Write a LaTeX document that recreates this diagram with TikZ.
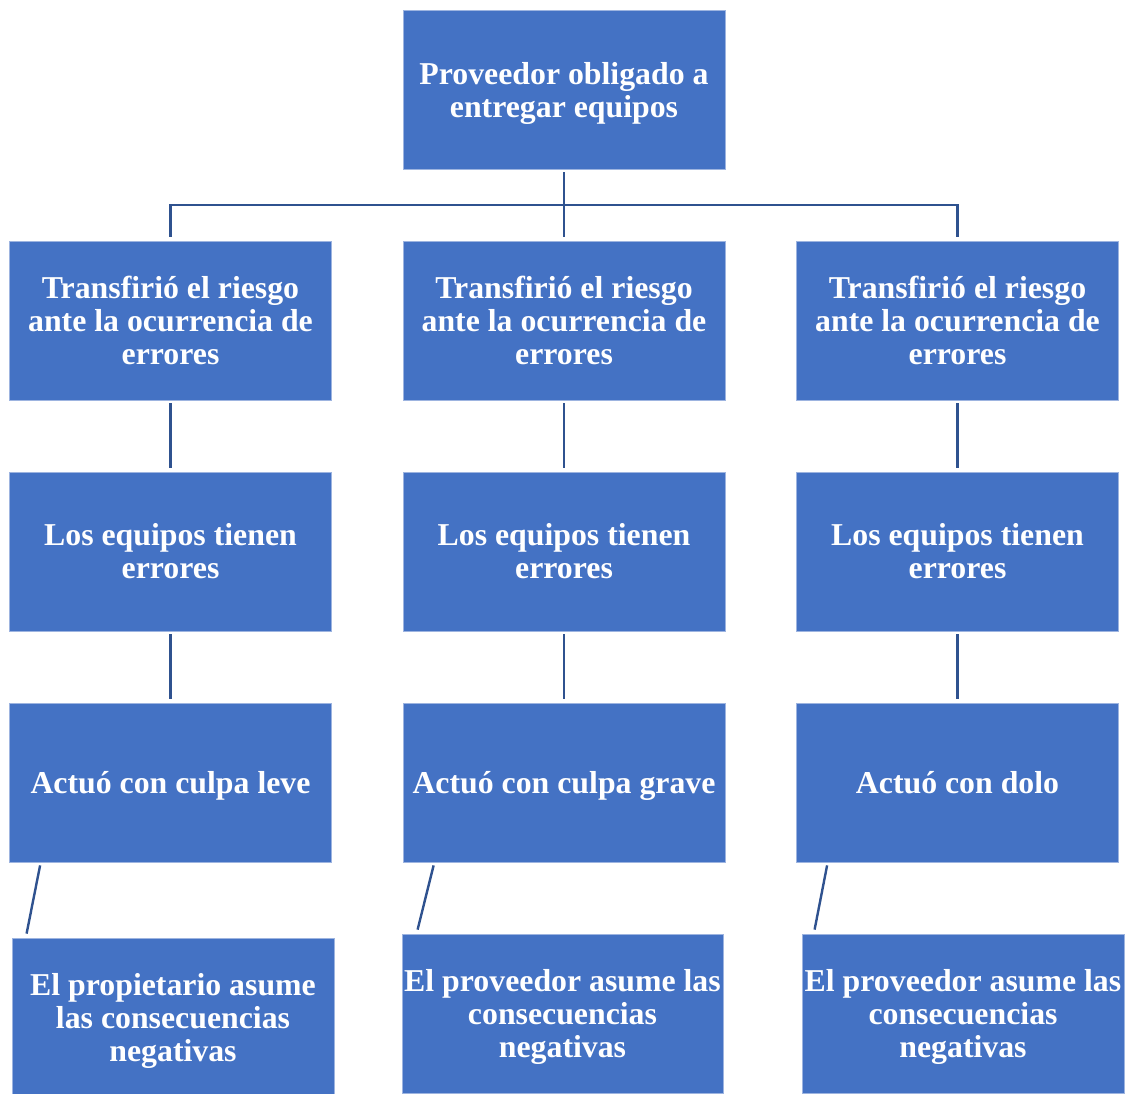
\documentclass[tikz,border=0pt]{standalone}
\usepackage{fontspec}
\setmainfont{Liberation Serif}
\usetikzlibrary{calc}
\definecolor{boxblue}{HTML}{4472C4}
\definecolor{boxedge}{HTML}{9DB4E0}
\definecolor{linkblue}{HTML}{2F528F}
% last line set without its descender depth, so text centres on its lines
\newcommand\flatline[1]{\raisebox{0pt}[\height][0pt]{#1}}
\begin{document}
\begin{tikzpicture}[x=1pt,y=-1pt,
  card/.style={rectangle, fill=boxblue, draw=boxedge, line width=0.8pt,
    minimum width=322pt, minimum height=159pt, inner sep=0pt,
    text=white, align=center,
    font=\fontsize{31.8}{33}\selectfont\bfseries},
  conn/.style={draw=linkblue, line width=2.4pt}]
\useasboundingbox (0,0) rectangle (1130,1093);
\clip (0,0) rectangle (1130,1093);

% root
\node[card] (top) at (564,89.5) {Proveedor obligado a\\\flatline{entregar equipos}};

% second row
\node[card] (l2) at (170.5,320.5) {Transfirió el riesgo\\ante la ocurrencia de\\errores};
\node[card] (m2) at (564,320.5) {Transfirió el riesgo\\ante la ocurrencia de\\errores};
\node[card] (r2) at (957.5,320.5) {Transfirió el riesgo\\ante la ocurrencia de\\errores};

% third row
\node[card] (l3) at (170.5,551.5) {Los equipos tienen\\errores};
\node[card] (m3) at (564,551.5) {Los equipos tienen\\errores};
\node[card] (r3) at (957.5,551.5) {Los equipos tienen\\errores};

% fourth row
\node[card] (l4) at (170.5,782.5) {\flatline{Actuó con culpa leve}};
\node[card] (m4) at (564,782.5) {\flatline{Actuó con culpa grave}};
\node[card] (r4) at (957.5,782.5) {\flatline{Actuó con dolo}};

% consequences (run past the lower edge)
\node[card] (l5) at (173,1017.5) {El propietario asume\\las consecuencias\\\flatline{negativas}};
\node[card, minimum width=321pt] (m5) at (562.5,1013.5) {El proveedor asume las\\consecuencias\\\flatline{negativas}};
\node[card] (r5) at (963,1013.5) {El proveedor asume las\\consecuencias\\\flatline{negativas}};

% tree connectors
\coordinate (bus) at (564,205);
\draw[conn, shorten <=3pt, shorten >=4pt] (top.south) -- (m2.north);
\draw[conn, shorten <=4pt, shorten >=4pt] (l2.north) |- (bus) -| (r2.north);

\foreach \c in {l,m,r}{
  \draw[conn, shorten <=3pt, shorten >=4pt] (\c2.south) -- (\c3.north);
  \draw[conn, shorten <=3pt, shorten >=4pt] (\c3.south) -- (\c4.north);
}

% slanted links to the consequences
\draw[conn] ($(l4.south west)+(31,3)$) -- ($(l5.north west)+(15,-4)$);
\draw[conn] ($(m4.south west)+(31,3)$) -- ($(m5.north west)+(16,-4)$);
\draw[conn] ($(r4.south west)+(31,3)$) -- ($(r5.north west)+(13,-4)$);
\end{tikzpicture}
\end{document}
